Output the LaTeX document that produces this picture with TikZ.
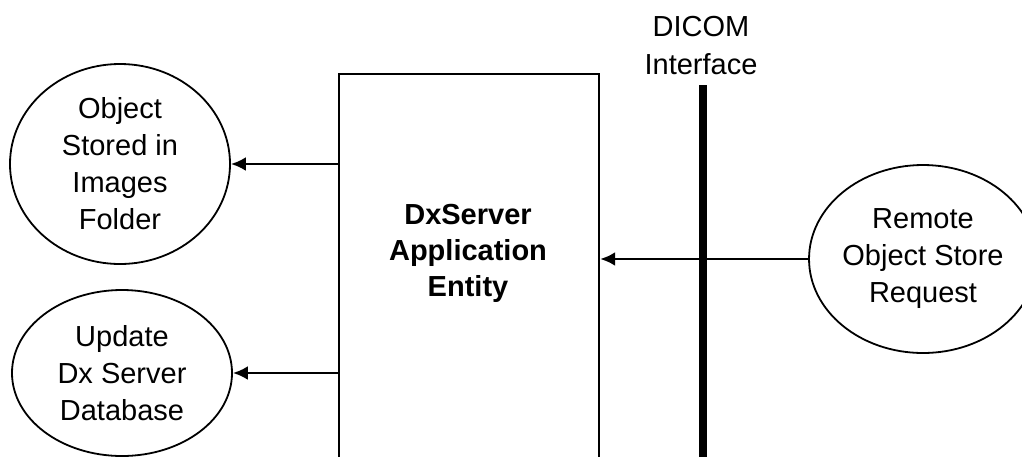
\documentclass[tikz,border=0pt]{standalone}
\usepackage{fontspec}
\setmainfont{Liberation Sans}
\usepackage{tikz}
\usetikzlibrary{shapes.geometric, arrows.meta, positioning}
\tikzstyle{usecase} = [ellipse, draw=black, line width=0.9pt, inner sep=0pt, align=center, font=\fontsize{14.5}{18.5}\selectfont]
\tikzstyle{entity} = [rectangle, draw=black, line width=1.1pt, minimum width=130pt, minimum height=230pt, inner sep=0pt]
\tikzstyle{arrow} = [line width=1.3pt, -{Latex[length=7.5pt, width=7pt]}]

\begin{document}
\begin{tikzpicture}[x=0.5pt, y=-0.5pt]
\useasboundingbox (0,0) rectangle (1022,456);

% --- Application entity ---
\node (AE) [entity, anchor=north west] at (338,73) {};
\node (AEtext) [align=center, font=\fontsize{14.5}{18}\selectfont\bfseries] at (468,253) {DxServer\\Application\\Entity};

% --- Local use cases ---
\node (Stored) [usecase, minimum width=110pt, minimum height=100pt] at (120,164) {Object\\Stored in\\Images\\Folder};
\node (Update) [usecase, minimum width=110pt, minimum height=83pt] at (122,373) {Update\\Dx Server\\Database};

% --- Remote use case ---
\node (Remote) [usecase, minimum width=111pt, minimum height=94pt] at (923,259) {Remote\\Object Store\\Request};

% --- DICOM interface ---
\node (DICOM) [align=center, font=\fontsize{14.5}{19}\selectfont] at (701,46) {DICOM\\Interface};
\coordinate (BarTop) at (703,85);
\coordinate (BarEnd) at (703,480);
\draw [line width=4pt] (BarTop) -- (BarEnd);

% --- Arrows ---
\draw [arrow] (AE.west |- Stored.east) -- (Stored.east);
\draw [arrow] (AE.west |- Update.east) -- (Update.east);
\draw [arrow] (Remote.west) -- (AE.east |- Remote.west);

\end{tikzpicture}
\end{document}
